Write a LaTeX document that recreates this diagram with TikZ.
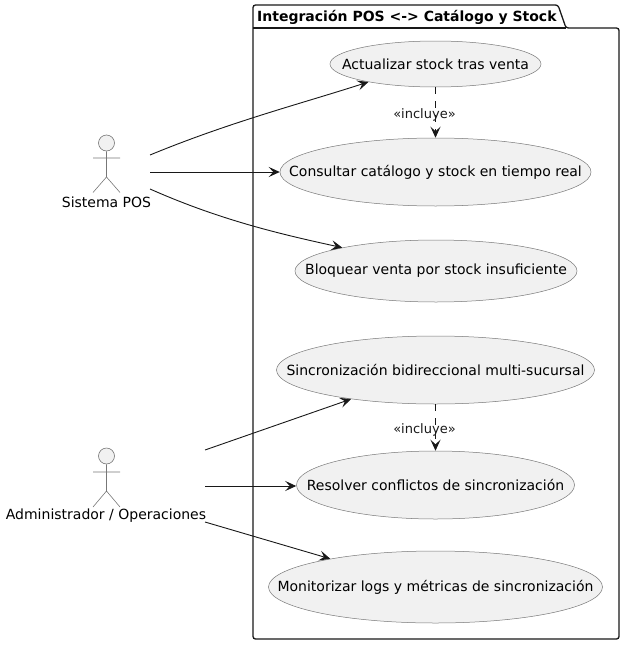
\documentclass[tikz,border=0pt]{standalone}
\usepackage{fontspec}
\setmainfont{DejaVu Sans}
\usetikzlibrary{shapes.geometric, arrows.meta, calc}

\definecolor{umlfill}{HTML}{F1F1F1}
\definecolor{umlline}{HTML}{181818}
\definecolor{umledge}{HTML}{777777}

% text of zero width: the ellipse takes its size from minimum width only
\newcommand{\uctext}[1]{\raisebox{-0.8pt}{\makebox[0pt]{#1}}}

\tikzset{
  usecase/.style = {ellipse, draw = umledge, fill = umlfill, inner sep = 0pt, line width = 0.5pt, font = \fontsize{14}{16}\selectfont},
  actorhead/.style = {circle, draw = umledge, fill = umlfill, minimum size = 16pt, inner sep = 0pt, line width = 0.6pt},
  actorbody/.style = {draw = umledge, line width = 0.6pt},
  actorname/.style = {inner sep = 0pt, font = \fontsize{14}{16}\selectfont},
  link/.style = {draw = umlline, line width = 0.9pt, -{Stealth[length = 11pt, width = 10pt, inset = 4.5pt]}},
  dashlink/.style = {link, dash pattern = on 7pt off 7pt},
  stereo/.style = {inner sep = 0pt, text = umlline, font = \fontsize{13}{15}\selectfont}
}

\begin{document}
\begin{tikzpicture}[x = 1pt, y = -1pt]
    \useasboundingbox (0,0) rectangle (624,645);
    % package
    \draw[umlline, line width = 1.3pt, rounded corners = 2.5pt]
      (253,28) -- (253,5) -- (558,5) -- (566,28) -- (619,28) -- (619,639) -- (253,639) -- cycle;
    \draw[umlline, line width = 1.3pt] (253,28) -- (566,28);
    \node[
    anchor = west,
    inner sep = 0pt,
    font = \fontsize{14}{16}\selectfont\bfseries
    ] (pkgtitle) at (257,17){Integración POS <-> Catálogo y Stock};

    % use cases
    \node[usecase, minimum width = 211pt, minimum height = 46pt] (ucUpdate) at (435.5,64){\uctext{Actualizar stock tras venta}};
    \node[usecase, minimum width = 311pt, minimum height = 68pt] (ucQuery) at (435.5,172){\uctext{Consultar catálogo y stock en tiempo real}};
    \node[usecase, minimum width = 282pt, minimum height = 62pt] (ucBlock) at (436,271){\uctext{Bloquear venta por stock insuficiente}};
    \node[usecase, minimum width = 318pt, minimum height = 68pt] (ucSync) at (435.5,370){\uctext{Sincronización bidireccional multi-sucursal}};
    \node[usecase, minimum width = 278pt, minimum height = 68pt] (ucSolve) at (435.5,485){\uctext{Resolver conflictos de sincronización}};
    \node[usecase, minimum width = 334pt, minimum height = 72pt] (ucLogs) at (435.5,587){\uctext{Monitorizar logs y métricas de sincronización}};

    % actors
    \node[actorhead] (headPos) at (106.5,143){};
    \draw[actorbody] (headPos.south) -- (106.5,177) -- (93,192.5) (106.5,177) -- (120,192.5) (93,158) -- (120,158);
    \node[actorname] (namePos) at (106.5,202){Sistema POS};
    \node[actorhead] (headAdm) at (106.5,456){};
    \draw[actorbody] (headAdm.south) -- (106.5,491) -- (93,507) (106.5,491) -- (120,507) (93,472) -- (120,472);
    \node[actorname] (nameAdm) at (106,516){Administrador / Operaciones};

    % free ends beside the actors
    \coordinate (posA) at (150,155);
    \coordinate (posB) at (150,172);
    \coordinate (posC) at (150,189);
    \coordinate (admA) at (205,450);
    \coordinate (admB) at (205,486);
    \coordinate (admC) at (205,522);

    % links
    \draw[link] (posA) .. controls (230,122) and (300,104) .. (ucUpdate.195.8);
    \draw[link] (posB) -- (ucQuery.west);
    \draw[link] (posC) .. controls (220,220) and (280,234) .. (ucBlock.166.7);
    \draw[link] (admA) -- (ucSync.199.9);
    \draw[link] (admB) -- (ucSolve.west |- admB);
    \draw[link] (admC) -- (ucLogs.165.3);
    \draw[dashlink] (ucUpdate) -- node[stereo, pos = 0.5, xshift = -11pt, yshift = -2pt] (incA) {«incluye»} (ucQuery);
    \draw[dashlink] (ucSync) -- node[stereo, pos = 0.5, xshift = -11pt, yshift = -2pt] (incB) {«incluye»} (ucSolve);
  \end{tikzpicture}
\end{document}
